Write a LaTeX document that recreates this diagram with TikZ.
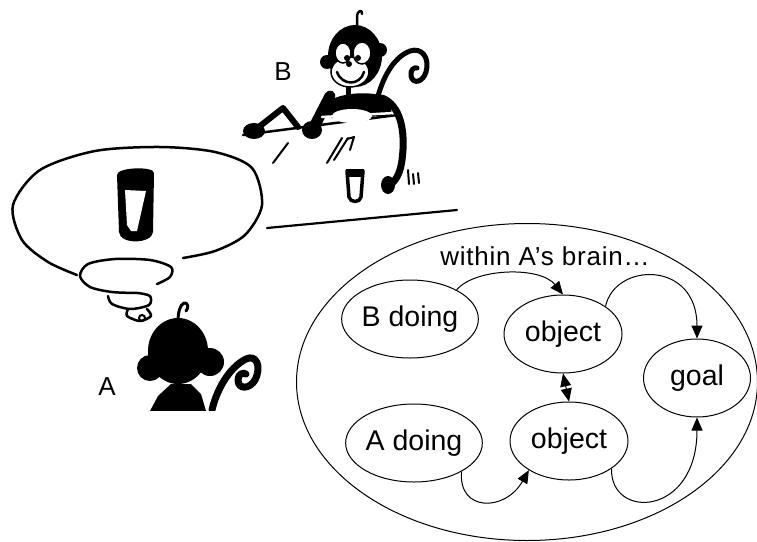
\documentclass[tikz,border=0pt]{standalone}
\usepackage{fontspec}
\setmainfont{Liberation Sans}
\usetikzlibrary{shapes.geometric,arrows.meta}
\tikzset{
  state/.style={draw, ellipse, line width=1pt, inner sep=0pt, font=\fontsize{28.5}{30}\selectfont},
  link/.style={line width=1pt, -{Triangle[length=13pt,width=11pt]}},
  ink/.style={line width=#1, line cap=round, line join=round},
  blot/.style={fill=black},
  lbl/.style={font=\fontsize{26}{28}\selectfont, inner sep=0pt}
}
\begin{document}
\begin{tikzpicture}[x=1pt,y=-1pt]
\useasboundingbox (0,0) rectangle (757,541);

% ---------- Monkey B scene ----------
% counter top and floor line
\draw[ink=2.5pt] (243,135) -- (397,115);
\draw[ink=2.2pt] (267,228) -- (457,210);
% hatch strokes on counter
\draw[ink=2pt] (273,163) -- (288,143);
\draw[ink=2pt] (327,163) -- (342,138);
\draw[ink=2pt] (334,160) -- (348,138);
\draw[ink=2pt] (347,139) -- (354,137) -- (350,150);
% far arm (bent, A-shaped) and hand
\draw[ink=6pt] (255,130) -- (283,108) -- (298,127);
\fill[blot] (254,131) ellipse [x radius=11, y radius=8];
% near arm and hand
\draw[ink=11pt] (330,96) -- (314,127);
\fill[blot] (312,130) ellipse [x radius=10, y radius=9];
% shoulders / chest
\fill[blot] (320,112) .. controls (322,92) and (378,88) .. (390,100) -- (392,116) -- (320,118) -- cycle;
\fill[white] (352,116) ellipse [x radius=20, y radius=7];
\draw[ink=2.5pt,white] (322,117) -- (394,113);
% neck
\draw[ink=5pt] (348,85) -- (348,102);
% right arm down behind counter to hand
\draw[ink=7pt] (382,98) .. controls (400,105) and (406,130) .. (402,160) .. controls (400,175) and (395,182) .. (388,186);
\fill[blot] (388,185) ellipse [x radius=7, y radius=9];
\draw[ink=2pt] (408,170) -- (409,184);
\draw[ink=2pt] (413,174) -- (414,184);
\draw[ink=2pt] (418,173) -- (419,183);
% tail spiral
\draw[ink=5pt] (377,100) .. controls (382,80) and (392,58) .. (410,51) .. controls (422,47) and (430,58) .. (426,72) .. controls (423,82) and (413,85) .. (411,76) .. controls (410,70) and (414,67) .. (417,68);
% head
\fill[blot] (327,62) circle (7);
\fill[blot] (380,50) circle (7);
\fill[blot] (355,56) ellipse [x radius=27, y radius=31];
% face
\filldraw[fill=white,draw=black,line width=1.5pt] (350,72) ellipse [x radius=19, y radius=15];
\filldraw[fill=white,draw=black,line width=1.5pt] (343,53) ellipse [x radius=8, y radius=10];
\filldraw[fill=white,draw=black,line width=1.5pt] (362,53) ellipse [x radius=9, y radius=11];
\fill[blot] (347,58) circle (3);
\fill[blot] (358,58) circle (3);
\fill[blot] (349,64) circle (3);
\draw[ink=2.5pt] (337,72) .. controls (342,86) and (360,86) .. (364,72);
% antenna
\draw[ink=2.5pt] (357,26) -- (357,17) .. controls (357,10) and (363,9) .. (362,14);
% cup on counter
\draw[ink=3.5pt] (347,171) -- (349,197) .. controls (350,203) and (360,203) .. (361,197) -- (363,171) -- cycle;
\fill[blot] (346,169) rectangle (364,177);
\node[lbl] (labB) at (283,72) {B};

% ---------- thought bubble ----------
\draw[ink=2.5pt] plot[smooth] coordinates {(183,258) (215,251) (245,235) (262,205) (252,168) (215,152) (160,147) (95,151) (40,170) (13,205) (22,240) (48,262) (77,275)};
\draw[ink=2.5pt] plot[smooth] coordinates {(157,284) (170,277) (171,267) (150,260) (115,259) (88,264) (80,276) (90,287) (112,292) (138,293)};
\draw[ink=2.5pt] plot[smooth] coordinates {(138,293) (150,296) (149,305) (130,309) (112,304) (108,296)};
\draw[ink=2.5pt] plot[smooth] coordinates {(128,309) (127,316) (140,321) (151,316) (147,309)};
\draw[ink=2pt] (142,318) circle (3);
% cup in bubble
\fill[blot] (117,175) .. controls (117,167) and (154,166) .. (154,173) -- (153,232) .. controls (152,244) and (120,245) .. (119,232) -- cycle;
\fill[white] (125,190) -- (146,191) -- (137,231) -- (131,231) -- (127,225) -- cycle;

% ---------- Monkey A ----------
\fill[blot] (150,368) circle (13);
\fill[blot] (210,362) circle (14);
\fill[blot] (178,351) ellipse [x radius=30, y radius=33];
\fill[blot] (150,411) -- (158,396) -- (171,384) -- (191,384) -- (201,394) -- (206,411) -- cycle;
\draw[ink=3pt] (178,322) .. controls (178,312) and (180,305) .. (184,303) .. controls (188,302) and (189,308) .. (186,311);
\draw[ink=7pt] (212,410) .. controls (216,392) and (228,368) .. (246,359) .. controls (256,354) and (262,366) .. (255,380) .. controls (250,389) and (238,390) .. (238,380) .. controls (238,374) and (243,372) .. (246,374);
\fill[white] (140,411) rectangle (270,430);
\node[lbl] (labA) at (107,387) {A};

% ---------- within A's brain ----------
\node[draw, ellipse, line width=1pt, minimum width=461pt, minimum height=317pt, inner sep=0pt] (brain) at (527,382) {};
\node[font=\fontsize{26}{28}\selectfont\addfontfeatures{LetterSpace=3}, inner sep=0pt] (title) at (545,256) {within A’s brain…};
\node[state, minimum width=128pt, minimum height=78pt] (bdo) at (410,319) {B doing};
\node[state, minimum width=118pt, minimum height=78pt] (ob1) at (563,334) {object};
\node[state, minimum width=107pt, minimum height=78pt] (goal) at (697,378) {goal};
\node[state, minimum width=128pt, minimum height=78pt] (ado) at (414,443) {A doing};
\node[state, minimum width=118pt, minimum height=78pt] (ob2) at (569,441) {object};

\draw[link] (bdo.32) .. controls (475,268) and (540,266) .. (ob1.north);
\draw[link] (ob1.33) .. controls (615,262) and (697,260) .. (goal.north);
\draw[line width=1pt, {Triangle[length=13pt,width=11pt]}-{Triangle[length=13pt,width=11pt]}] (ob1.south) -- (ob2.north);
\draw[link] (ado.-31) .. controls (458,512) and (505,512) .. (ob2.216);
\draw[link] (ob2.-33) .. controls (610,520) and (697,517) .. (goal.south);
\end{tikzpicture}
\end{document}
